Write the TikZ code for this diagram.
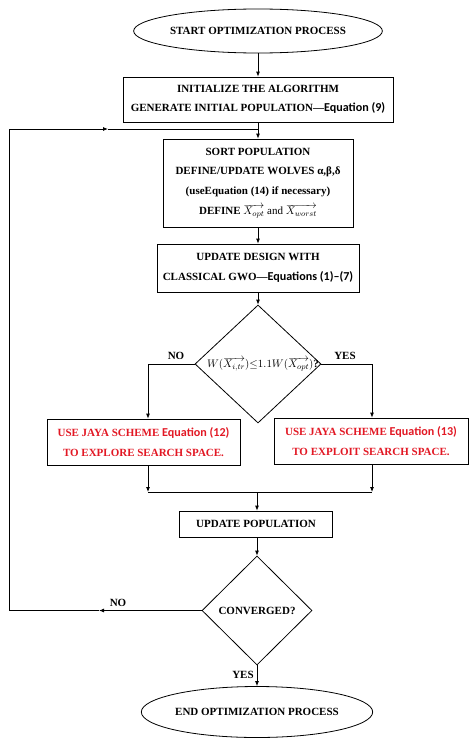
\documentclass[tikz,border=0pt]{standalone}
\usepackage{fontspec}
\setmainfont{Liberation Serif}
\newfontfamily\eqfont[Scale=1.1]{Carlito}
\usetikzlibrary{shapes.geometric,arrows.meta}
\definecolor{jred}{RGB}{226,24,36}
\begin{document}
\begin{tikzpicture}[x=1pt,y=-1pt,
  box/.style={draw, line width=0.8pt, inner sep=0pt, align=center, font=\fontsize{11}{19.5}\selectfont\bfseries},
  term/.style={ellipse, draw, line width=0.8pt, inner sep=0pt, font=\fontsize{11}{13}\selectfont\bfseries},
  dia/.style={diamond, draw, line width=0.8pt, inner sep=0pt},
  lbl/.style={inner sep=1pt, font=\fontsize{11}{13}\selectfont\bfseries},
  arr/.style={-{Latex[length=5pt,width=4pt]}, line width=0.8pt},
  ln/.style={line width=0.8pt}]
\fill[white] (0,0) rectangle (474,744);
\useasboundingbox (0,0) rectangle (474,744);

\node[term, minimum width=212pt, minimum height=44pt] (start) at (258,31) {START OPTIMIZATION PROCESS};
\node[box, minimum width=270pt, minimum height=45pt] (init) at (258,99.5) {INITIALIZE THE ALGORITHM\\GENERATE INITIAL POPULATION—{\eqfont Equation (9)}};
\node[box, minimum width=190pt, minimum height=88pt] (sort) at (258,183) {SORT POPULATION\\DEFINE/UPDATE WOLVES α,β,δ\\(useEquation (14) if necessary)\\[1pt]DEFINE $\overrightarrow{X_{opt}}$ {\mdseries and} $\overrightarrow{X_{worst}}$};
\node[box, minimum width=202pt, minimum height=48pt] (upd) at (258,268) {UPDATE DESIGN WITH\\CLASSICAL GWO—{\eqfont Equations (1)–(7)}};
\node[dia, minimum width=126pt, minimum height=118pt] (d1) at (258,364) {};
\node[lbl] (d1t) at (263,364) {$W(\overrightarrow{X_{i,tr}}){\leq}1.1W(\overrightarrow{X_{opt}})$?};
\node[box, text=jred, minimum width=193pt, minimum height=46pt] (lb) at (143.5,442) {USE JAYA SCHEME {\eqfont Equation (12)}\\TO EXPLORE SEARCH SPACE.};
\node[box, text=jred, minimum width=194pt, minimum height=46pt] (rb) at (371,441) {USE JAYA SCHEME {\eqfont Equation (13)}\\TO EXPLOIT SEARCH SPACE.};
\node[box, minimum width=153pt, minimum height=26pt] (pop) at (256,524) {UPDATE POPULATION};
\node[dia, minimum width=110pt, minimum height=109pt] (d2) at (257,610.5) {};
\node[lbl] (d2t) at (d2.center) {CONVERGED?};
\node[term, minimum width=207pt, minimum height=51pt] (stop) at (257,712) {END OPTIMIZATION PROCESS};

\node[lbl] (no1) at (176,356) {NO};
\node[lbl] (yes1) at (345,356) {YES};
\node[lbl] (no2) at (118,603) {NO};
\node[lbl] (yes2) at (243,675) {YES};

\coordinate (j1) at (258,129);
\coordinate (la) at (148,364);
\coordinate (ra) at (372,364);
\coordinate (jl) at (148,492);
\coordinate (jr) at (372,492);
\coordinate (jc) at (257,492);
\coordinate (na) at (99,610.5);
\coordinate (lc) at (9,610.5);
\coordinate (lt) at (9,129);
\coordinate (ma) at (108,129);

\draw[arr] (start) -- (init);
\draw[arr] (init) -- (sort);
\draw[arr] (sort) -- (upd);
\draw[arr] (upd) -- (d1.north);
\draw[arr] (d1.west) -- (la) -- (la |- lb.north);
\draw[arr] (d1.east) -- (ra) -- (ra |- rb.north);
\draw[arr] (la |- lb.south) -- (jl);
\draw[arr] (ra |- rb.south) -- (jr);
\draw[ln] (jl) -- (jr);
\draw[arr] (jc) -- (jc |- pop.north);
\draw[arr] (pop.south -| d2.north) -- (d2.north);
\draw[arr] (d2.south) -- (stop.north);
\draw[arr] (d2.west) -- (na);
\draw[ln] (na) -- (lc) -- (lt);
\draw[arr] (lt) -- (ma);
\draw[ln] (ma) -- (j1);
\end{tikzpicture}
\end{document}
